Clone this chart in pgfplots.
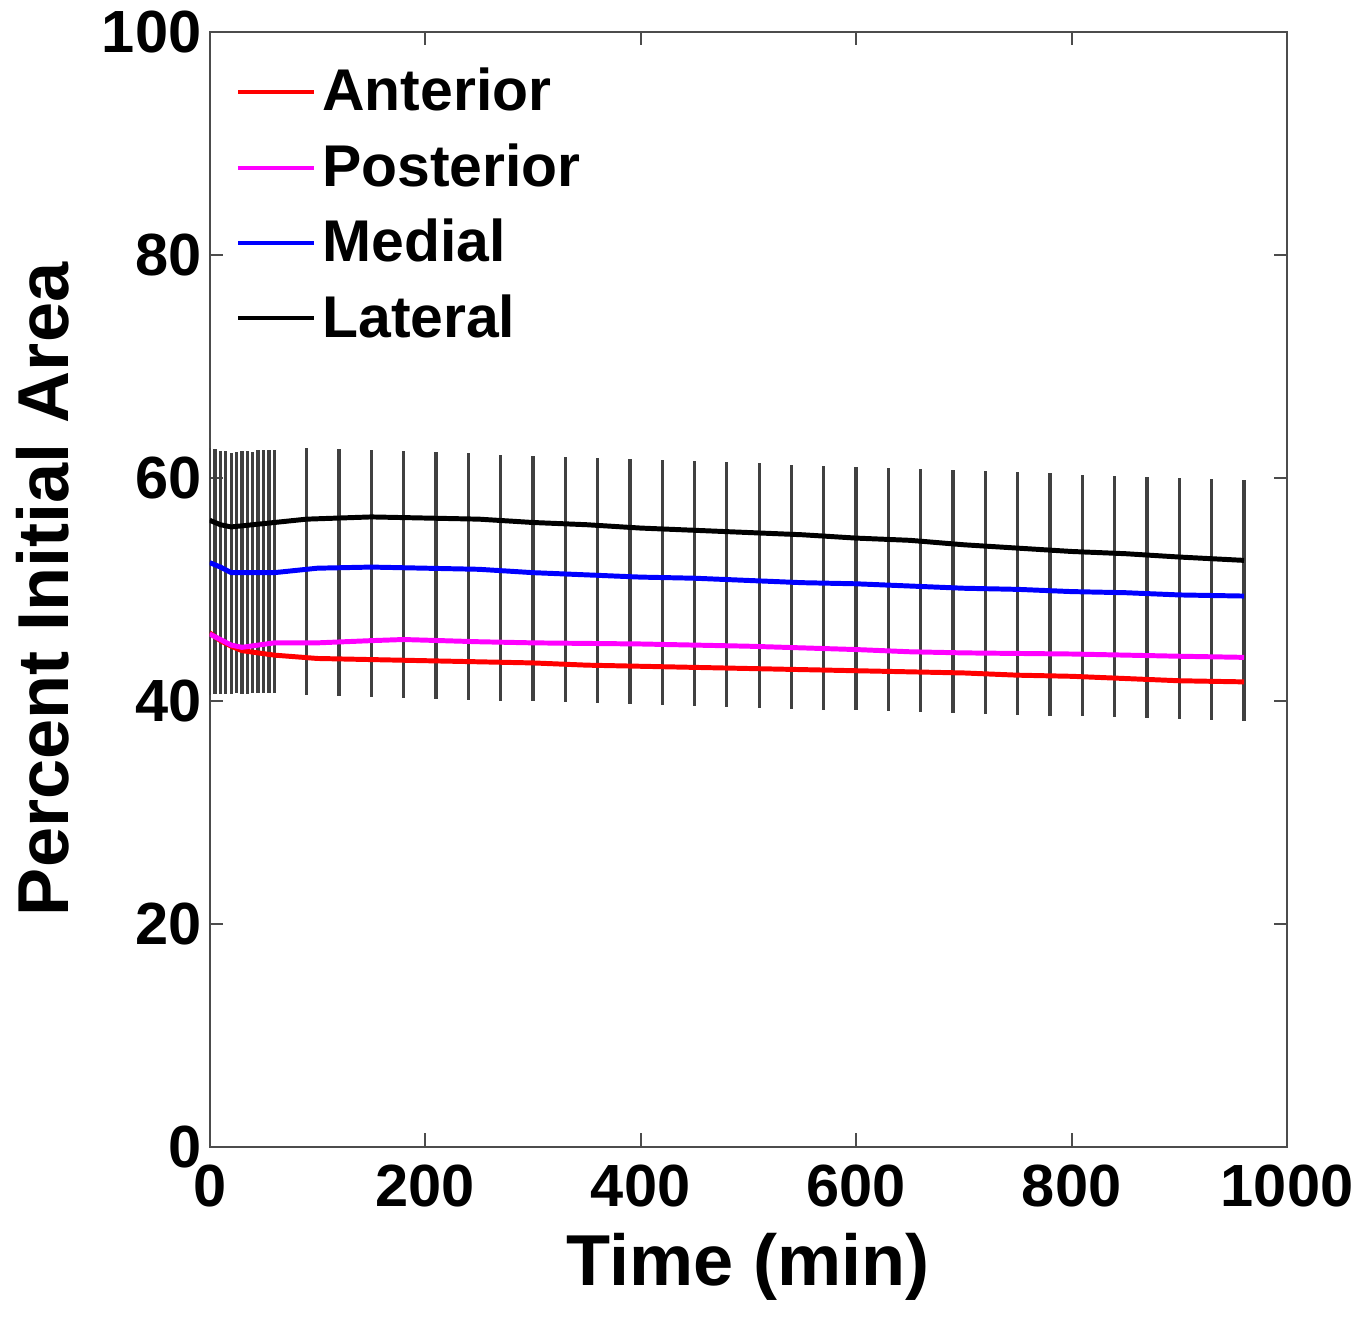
\documentclass[border={1.6pt 3pt 2pt 0pt}]{standalone}
\usepackage{pgfplots}
\pgfplotsset{compat=1.18}
\usepackage{pgfplotstable}
\usepackage{fontspec}
\setmainfont{Liberation Sans}
\definecolor{mmag}{rgb}{1,0,1}
\pgfplotstableread{
x c h
0 51.6 11.1
5 51.6 11.0
10 51.5 10.9
15 51.5 10.9
20 51.4 10.8
25 51.5 10.8
30 51.5 10.9
35 51.5 10.9
40 51.5 10.8
45 51.6 10.9
50 51.6 10.9
55 51.6 10.9
60 51.6 10.9
90 51.60 11.10
120 51.51 11.09
150 51.42 11.08
180 51.33 11.07
210 51.24 11.06
240 51.15 11.05
270 51.06 11.04
300 50.97 11.03
330 50.88 11.02
360 50.79 11.01
390 50.70 11.00
420 50.61 10.99
450 50.52 10.98
480 50.43 10.97
510 50.34 10.96
540 50.25 10.95
570 50.16 10.94
600 50.08 10.93
630 49.99 10.92
660 49.90 10.91
690 49.81 10.89
720 49.72 10.88
750 49.63 10.87
780 49.54 10.86
810 49.45 10.85
840 49.36 10.84
870 49.27 10.83
900 49.18 10.82
930 49.09 10.81
960 49.00 10.80
}\errtable
\begin{document}
\begin{tikzpicture}
\begin{axis}[
  scale only axis,
  width=325.7pt, height=336.9pt,
  xmin=0, xmax=1000, ymin=0, ymax=100,
  xtick={0,200,...,1000}, ytick={0,20,...,100},
  tick align=inside, tick pos=both,
  major tick length=4pt,
  axis line style={black!70, line width=0.6pt},
  tick style={black!70, line width=0.6pt},
  /pgf/number format/assume math mode=true,
  /pgf/number format/1000 sep={},
  ticklabel style={font=\fontsize{18}{20}\selectfont\bfseries},
  yticklabel style={xshift=1pt},
  xticklabel style={yshift=-2pt},
  xlabel={Time (min)}, ylabel={Percent Initial Area},
  label style={font=\fontsize{21.8}{24}\selectfont\bfseries},
  xlabel style={yshift=-1pt},
  ylabel style={yshift=3pt},
  legend style={draw=none, fill=none, at={(0.015,0.98)}, anchor=north west,
    font=\fontsize{17.8}{19}\selectfont\bfseries, row sep=4.4pt,
    legend cell align=left},
  legend image code/.code={\draw[#1, line width=1.2pt] (0cm,0cm) -- (0.8cm,0cm);},
]
\addplot[draw=none, mark=none, forget plot,
  error bars/.cd, y dir=both, y explicit, error mark=none,
  error bar style={draw=black!75, line width=1pt}]
  table[x=x, y=c, y error=h] {\errtable};
\addplot[red, line width=1.5pt] coordinates {
(0,46.1) (10,45.4) (20,44.9) (30,44.5) (45,44.3) (60,44.1) (100,43.8) (150,43.7) (200,43.6) (250,43.5) (300,43.4) (350,43.2) (400,43.1) (450,43.0) (500,42.9) (550,42.8) (600,42.7) (650,42.6) (700,42.5) (750,42.3) (800,42.2) (850,42.0) (900,41.8) (960,41.7)};
\addlegendentry{Anterior}
\addplot[mmag, line width=1.5pt] coordinates {
(0,46.0) (10,45.5) (20,45.0) (30,44.8) (45,45.0) (60,45.2) (100,45.2) (150,45.4) (180,45.5) (250,45.3) (300,45.2) (400,45.1) (500,44.9) (600,44.6) (650,44.4) (700,44.3) (800,44.2) (900,44.0) (960,43.9)};
\addlegendentry{Posterior}
\addplot[blue, line width=1.5pt] coordinates {
(0,52.4) (10,52.0) (20,51.5) (40,51.5) (60,51.5) (100,51.9) (150,52.0) (200,51.9) (250,51.8) (300,51.5) (350,51.3) (400,51.1) (450,51.0) (500,50.8) (550,50.6) (600,50.5) (650,50.3) (700,50.1) (750,50.0) (800,49.8) (850,49.7) (900,49.5) (960,49.4)};
\addlegendentry{Medial}
\addplot[black, line width=1.5pt] coordinates {
(0,56.2) (10,55.8) (20,55.6) (30,55.7) (40,55.8) (60,56.0) (90,56.3) (120,56.4) (150,56.5) (200,56.4) (250,56.3) (300,56.0) (350,55.8) (400,55.5) (450,55.3) (500,55.1) (550,54.9) (600,54.6) (650,54.4) (700,54.0) (750,53.7) (800,53.4) (850,53.2) (900,52.9) (960,52.6)};
\addlegendentry{Lateral}
\end{axis}
\end{tikzpicture}
\end{document}
